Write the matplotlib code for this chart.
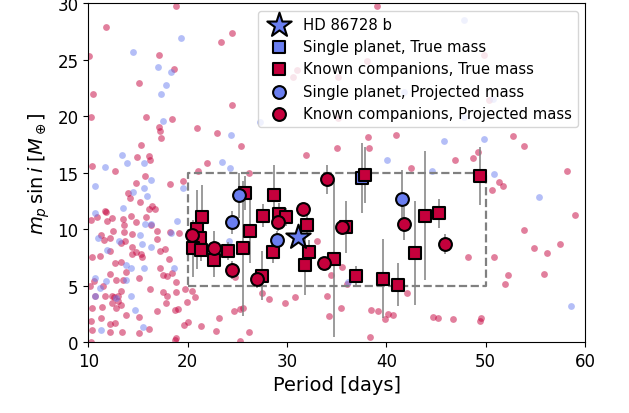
import numpy as np
import matplotlib
matplotlib.use("Agg")
from matplotlib import pyplot

# background population: planets with known companions (red) and single planets (blue)
bg_multi_period = [
    18.81, 11.82, 24.47, 23.36, 17.08, 10.10, 18.60, 15.06, 10.51, 24.47,
    10.30, 15.77, 18.40, 17.08, 17.19, 20.93, 17.29, 22.95, 15.26, 25.38,
    16.07, 14.86, 16.17, 21.94, 10.40, 12.73, 21.03, 15.67, 26.19, 39.05,
    31.05, 30.65, 35.10, 38.03, 49.88, 50.38, 35.10, 38.14, 40.97, 38.24,
    35.00, 31.96, 52.71, 53.82, 46.94, 48.76, 49.27, 42.49, 58.17, 51.39,
    51.70, 50.59, 58.99, 53.82, 54.84, 56.15, 57.47, 48.26, 50.89, 52.20,
    51.90, 55.85, 32.97, 35.50, 34.39, 36.01, 42.08, 29.84, 30.85, 33.99,
    35.40, 34.19, 38.44, 39.15, 40.16, 40.67, 39.86, 44.72, 45.22, 46.74,
    49.57, 49.47, 38.34, 19.72, 20.42, 19.92, 20.73, 19.61, 20.02, 21.34,
    23.16, 22.85, 24.68, 25.28, 25.59, 26.19, 25.28, 27.51, 28.22, 24.78,
    18.70, 10.30, 19.51, 18.20, 18.20, 19.11, 17.19, 18.40, 17.49, 17.89,
    16.17, 17.49, 17.89, 18.81, 19.01, 18.70, 14.76, 13.95, 14.15, 15.16,
    16.38, 16.07, 16.68, 11.72, 11.82, 14.25, 10.91, 12.33, 10.30, 11.92,
    13.44, 13.54, 14.76, 15.77, 16.28, 16.88, 12.43, 13.54, 11.32, 14.35,
    12.13, 16.88, 13.64, 11.62, 13.24, 14.35, 12.13, 14.76, 15.26, 15.36,
    14.35, 17.19, 17.69, 10.40, 11.21, 18.10, 12.73, 13.24, 12.13, 13.74,
    10.61, 10.20, 12.83, 13.44, 15.06, 11.52, 13.24, 18.81, 10.71, 11.72,
    12.33, 12.53, 12.94, 12.94, 13.24, 12.33, 17.79, 10.40, 11.42, 12.83,
    13.74, 16.88, 11.32, 12.73, 12.13, 15.06, 10.30, 10.40, 12.13, 13.34,
    15.06, 16.07, 18.81,
]
bg_multi_mass = [
    29.73, 27.88, 27.35, 26.56, 25.42, 25.33, 24.19, 22.96, 21.99, 21.02,
    19.96, 19.96, 19.79, 19.00, 18.65, 18.91, 18.03, 18.47, 17.41, 17.33,
    16.45, 16.36, 16.09, 15.83, 15.57, 15.13, 15.13, 14.69, 14.95, 29.73,
    24.10, 23.48, 23.48, 24.89, 25.42, 21.46, 19.88, 18.12, 18.29, 17.15,
    17.15, 16.53, 18.21, 17.33, 16.09, 16.27, 16.80, 15.39, 15.13, 14.16,
    13.81, 13.46, 11.26, 9.94, 8.36, 7.92, 8.71, 7.56, 7.56, 5.98,
    5.19, 6.07, 8.97, 6.68, 5.98, 5.19, 4.31, 3.43, 3.96, 4.05,
    2.99, 2.29, 2.81, 2.73, 2.46, 2.37, 2.02, 2.20, 2.11, 2.02,
    2.11, 1.85, 0.44, 4.75, 4.57, 3.52, 3.96, 1.50, 1.76, 1.41,
    2.11, 0.97, 2.73, 2.90, 2.99, 0.88, 0.09, 4.31, 3.78, 5.80,
    0.18, 0.00, 14.25, 13.98, 9.76, 9.67, 6.60, 6.16, 5.98, 5.89,
    4.75, 4.40, 4.05, 4.40, 2.90, 2.81, 14.07, 13.19, 12.75, 12.40,
    12.05, 11.79, 11.79, 11.61, 11.52, 11.17, 11.08, 10.99, 10.82, 10.73,
    10.91, 10.38, 10.64, 11.08, 10.38, 9.85, 9.85, 9.76, 9.50, 9.59,
    9.24, 9.15, 8.97, 9.06, 8.80, 8.44, 8.09, 8.00, 7.83, 7.56,
    7.83, 8.09, 8.27, 7.56, 7.65, 7.39, 7.04, 7.12, 6.07, 6.24,
    5.45, 5.01, 5.54, 5.54, 5.72, 4.93, 4.49, 5.36, 4.13, 4.05,
    4.05, 3.96, 4.05, 3.69, 3.25, 3.43, 3.43, 2.99, 3.08, 2.99,
    2.37, 2.73, 2.11, 1.67, 1.58, 2.20, 1.85, 1.06, 0.88, 0.88,
    0.79, 1.14, 0.35,
]
bg_single_period = [
    19.31, 14.45, 16.98, 18.30, 17.79, 17.29, 17.49, 24.37, 27.31, 13.34,
    13.85, 15.57, 11.72, 23.46, 24.27, 47.85, 41.78, 50.79, 47.85, 45.83,
    49.88, 40.06, 44.61, 50.89, 55.34, 58.58, 36.11, 16.28, 10.71, 15.57,
    14.45, 15.87, 19.51, 13.44, 10.71, 15.67, 16.28, 18.91, 18.30, 15.16,
    11.01, 13.04, 15.36, 16.28, 11.92, 13.74, 14.25, 15.57, 10.71, 11.82,
    11.21, 10.71, 12.83, 13.74, 14.25, 14.66, 18.60, 15.47, 11.32, 24.17,
]
bg_single_mass = [
    26.91, 25.68, 24.36, 23.92, 22.78, 21.99, 19.61, 18.29, 19.44, 16.53,
    15.83, 15.83, 15.48, 15.92, 15.39, 28.50, 22.16, 21.55, 19.96, 17.77,
    17.94, 16.09, 15.13, 14.86, 12.84, 3.17, 5.36, 14.34, 13.81, 13.63,
    13.28, 12.93, 13.63, 11.87, 11.43, 10.47, 10.47, 10.73, 9.67, 9.50,
    9.24, 8.97, 8.71, 8.44, 8.18, 6.86, 6.60, 6.60, 5.72, 5.45,
    4.84, 4.05, 3.87, 5.54, 4.05, 2.81, 6.60, 1.32, 1.06, 8.97,
]

# highlighted sample inside the search box
multi_true_period = [21.4, 20.9, 21.2, 20.5, 21.3, 22.6, 24.1, 25.6, 26.3, 27.6,
                     28.7, 25.8, 29.2, 29.9, 28.6, 27.5, 32.0, 32.2, 31.8, 34.7,
                     35.9, 36.9, 39.7, 41.2, 37.9, 49.4, 43.9, 45.3, 42.9]
multi_true_mass = [11.1, 10.0, 9.2, 8.3, 8.2, 7.3, 8.1, 8.3, 9.8, 11.2,
                   13.0, 13.2, 11.3, 11.1, 8.0, 5.9, 10.4, 8.0, 6.8, 7.4,
                   10.2, 5.9, 5.6, 5.1, 14.8, 14.7, 11.2, 11.4, 7.9]
multi_true_err = [2.8, 3.5, 1.0, 2.5, 1.0, 1.5, 0.8, 6.0, 2.8, 1.0,
                  2.7, 1.5, 1.0, 0.8, 1.0, 2.2, 1.0, 1.0, 2.6, 6.9,
                  2.3, 0.8, 3.5, 1.9, 2.5, 2.6, 5.7, 1.3, 4.6]

single_true_period = [37.5]
single_true_mass = [14.5]
single_true_err = [3.1]

multi_proj_period = [20.4, 22.6, 24.5, 27.0, 29.1, 34.0, 31.6, 35.5, 33.7, 41.8, 45.9]
multi_proj_mass = [9.5, 8.3, 6.4, 5.6, 10.6, 14.4, 11.8, 10.2, 7.0, 10.5, 8.7]
multi_proj_err = [1.0, 1.5, 0.8, 0.8, 0.8, 1.3, 0.5, 0.5, 0.5, 1.5, 0.9]

single_proj_period = [25.2, 24.5, 29.0, 41.6]
single_proj_mass = [13.0, 10.6, 9.0, 12.7]
single_proj_err = [2.0, 1.0, 0.8, 2.5]

target_period = [31.1]
target_mass = [9.3]

box_period = [20, 50]
box_mass = [5, 15]

red = '#c5003c'
blue = '#6a7ef0'

fig = pyplot.figure(figsize=(6.29, 4.14), dpi=100)
ax = fig.add_axes([0.1405, 0.171, 0.7895, 0.819])

ax.scatter(bg_multi_period, bg_multi_mass, s=24, c=red, alpha=0.5, lw=0, zorder=1)
ax.scatter(bg_single_period, bg_single_mass, s=24, c=blue, alpha=0.5, lw=0, zorder=1)

ax.plot([box_period[0], box_period[1], box_period[1], box_period[0], box_period[0]],
        [box_mass[0], box_mass[0], box_mass[1], box_mass[1], box_mass[0]],
        ls='--', c='gray', lw=1.6, zorder=1.5)

for p, m, e in [(multi_true_period, multi_true_mass, multi_true_err),
                (single_true_period, single_true_mass, single_true_err),
                (multi_proj_period, multi_proj_mass, multi_proj_err),
                (single_proj_period, single_proj_mass, single_proj_err)]:
    ax.errorbar(p, m, yerr=e, fmt='none', ecolor='gray', elinewidth=1.1, zorder=2)

kw = dict(edgecolors='k', linewidths=1.5, zorder=3)
ax.scatter(target_period, target_mass, marker='*', s=340, c=blue, label='HD 86728 b',
           edgecolors='k', linewidths=1.5, zorder=5)
ax.scatter(single_true_period, single_true_mass, marker='s', s=80, c=blue,
           label='Single planet, True mass', **kw)
ax.scatter(multi_true_period, multi_true_mass, marker='s', s=80, c=red,
           label='Known companions, True mass', **kw)
ax.scatter(single_proj_period, single_proj_mass, marker='o', s=85, c=blue,
           label='Single planet, Projected mass', **kw)
ax.scatter(multi_proj_period, multi_proj_mass, marker='o', s=85, c=red,
           label='Known companions, Projected mass', **kw)

ax.set_xlim(10, 60)
ax.set_ylim(0, 30)
ax.set_xticks([10, 20, 30, 40, 50, 60])
ax.set_yticks([0, 5, 10, 15, 20, 25, 30])
ax.tick_params(labelsize=12)
ax.set_xlabel('Period [days]', fontsize=14)
ax.set_ylabel(r'$m_p\,\sin i\;[M_\oplus]$', fontsize=14)
leg = ax.legend(loc='upper right', fontsize=10.7, handletextpad=0.6)
leg.set_zorder(10)

pyplot.savefig('out.png', dpi=100)
